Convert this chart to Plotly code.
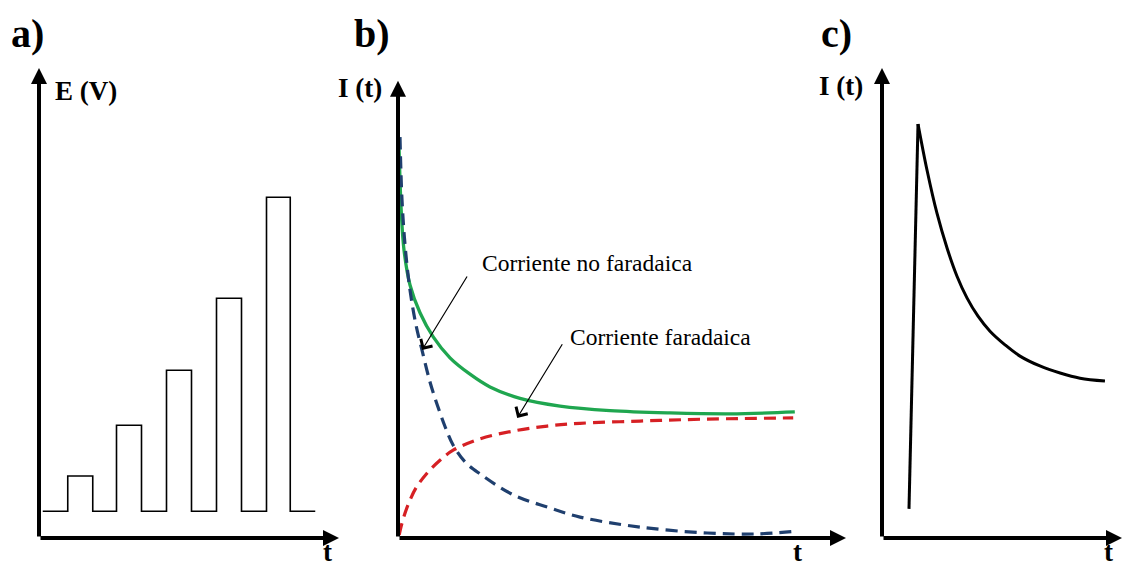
import plotly.graph_objects as go

W, H = 1123, 566

# ---------------- Panel a: potential pulses ----------------
pulse_start = [1.15, 3.1, 5.1, 7.1, 9.1]
pulse_end = [2.15, 4.1, 6.1, 8.1, 10.05]
pulse_E = [1.32, 2.4, 3.57, 5.1, 7.25]
base_E = 0.57
t_first, t_last = 0.15, 11.05

# ---------------- Panel b: currents ----------------
green_t = [0.02, 0.08, 0.15, 0.3, 0.55, 0.88, 1.3, 1.8, 2.3, 3.05, 4.05, 5.3, 6.8, 8.3, 9.92]
green_I = [8.8, 7.2, 6.33, 5.56, 4.95, 4.42, 3.96, 3.6, 3.32, 3.07, 2.9, 2.8, 2.75, 2.73, 2.77]

blue_t = [0.05, 0.1, 0.18, 0.3, 0.45, 0.6, 0.8, 0.98, 1.18, 1.38, 1.68, 2.05, 2.88, 3.73, 4.55, 6.05, 7.73, 8.98, 9.93]
blue_I = [8.81, 7.43, 6.4, 5.45, 4.68, 4.13, 3.43, 2.93, 2.44, 2.04, 1.67, 1.41, 0.95, 0.68, 0.46, 0.24, 0.11, 0.09, 0.15]

red_t = [0.03, 0.08, 0.15, 0.28, 0.45, 0.73, 1.05, 1.38, 2.05, 2.88, 3.73, 4.55, 6.05, 7.55, 9.88]
red_I = [0.07, 0.26, 0.48, 0.79, 1.1, 1.43, 1.71, 1.93, 2.18, 2.35, 2.46, 2.52, 2.57, 2.61, 2.64]

# ---------------- Panel c: current transient ----------------
c_rise_t = [1.125, 1.5]
c_rise_I = [0.62, 8.81]
c_decay_t = [1.5, 1.875, 2.29, 2.71, 3.125, 3.54, 4.0, 4.5, 5.125, 5.75, 6.58, 7.42, 8.25, 9.29]
c_decay_I = [8.81, 7.83, 6.91, 6.17, 5.57, 5.11, 4.72, 4.4, 4.11, 3.87, 3.66, 3.51, 3.4, 3.34]

panel_letters = ["a)", "b)", "c)"]
y_labels = ["E (V)", "I (t)", "I (t)"]
x_label = "t"
label_nf = "Corriente no faradaica"
label_f = "Corriente faradaica"

SERIF = "Liberation Serif"


def fx(px):
    return px / W


def fy(py):
    return 1 - py / H


# step path for panel a
step_t = [t_first]
step_E = [base_E]
for s, e, h in zip(pulse_start, pulse_end, pulse_E):
    step_t += [s, s, e, e]
    step_E += [base_E, h, h, base_E]
step_t.append(t_last)
step_E.append(base_E)

fig = go.Figure()
fig.add_trace(go.Scatter(x=step_t, y=step_E, mode="lines",
                         line=dict(color="black", width=1.6),
                         xaxis="x", yaxis="y", showlegend=False))

fig.add_trace(go.Scatter(x=green_t, y=green_I, mode="lines",
                         line=dict(color="#1fa64f", width=3.3, shape="spline", smoothing=1.0),
                         xaxis="x2", yaxis="y2", showlegend=False))
fig.add_trace(go.Scatter(x=blue_t, y=blue_I, mode="lines",
                         line=dict(color="#1f3f6e", width=3.2, dash="12px,7px", shape="spline", smoothing=1.0),
                         xaxis="x2", yaxis="y2", showlegend=False))
fig.add_trace(go.Scatter(x=red_t, y=red_I, mode="lines",
                         line=dict(color="#d62024", width=3.2, dash="12px,7px", shape="spline", smoothing=1.0),
                         xaxis="x2", yaxis="y2", showlegend=False))

fig.add_trace(go.Scatter(x=c_rise_t, y=c_rise_I, mode="lines",
                         line=dict(color="black", width=3),
                         xaxis="x3", yaxis="y3", showlegend=False))
fig.add_trace(go.Scatter(x=c_decay_t, y=c_decay_I, mode="lines",
                         line=dict(color="black", width=3, shape="spline", smoothing=1.0),
                         xaxis="x3", yaxis="y3", showlegend=False))

ax_common = dict(visible=False, fixedrange=True)
fig.update_layout(
    width=W, height=H,
    margin=dict(l=0, r=0, t=0, b=0),
    paper_bgcolor="white", plot_bgcolor="white",
    font=dict(family=SERIF),
    xaxis=dict(domain=[fx(39), fx(339)], range=[0, 12], anchor="y", **ax_common),
    yaxis=dict(domain=[fy(538), fy(68)], range=[0, 10], anchor="x", **ax_common),
    xaxis2=dict(domain=[fx(398), fx(798)], range=[0, 10], anchor="y2", **ax_common),
    yaxis2=dict(domain=[fy(538), fy(83)], range=[0, 10], anchor="x2", **ax_common),
    xaxis3=dict(domain=[fx(882), fx(1122)], range=[0, 10], anchor="y3", **ax_common),
    yaxis3=dict(domain=[fy(538), fy(68)], range=[0, 10], anchor="x3", **ax_common),
    showlegend=False,
)

annotations = []


def axis_arrows(xr, yr, xtip, ytip):
    for (x, y) in [(xtip, 0), (0, ytip)]:
        annotations.append(dict(
            x=x, y=y, ax=0, ay=0, xref=xr, yref=yr, axref=xr, ayref=yr,
            text="", showarrow=True, arrowhead=2, arrowsize=0.8,
            arrowwidth=4, arrowcolor="black", standoff=0, startstandoff=0))


axis_arrows("x", "y", 12.0, 10.0)
axis_arrows("x2", "y2", 11.2, 10.05)
axis_arrows("x3", "y3", 10.0, 10.0)

# panel letters
for txt, px, py in zip(panel_letters, [27, 372, 836], [34, 34, 34]):
    annotations.append(dict(x=fx(px), y=fy(py), xref="paper", yref="paper",
                            text="<b>%s</b>" % txt, showarrow=False,
                            font=dict(family=SERIF, size=40, color="black"),
                            xanchor="center", yanchor="middle"))

# y labels
for txt, px, py in zip(y_labels, [86, 360, 841], [91, 88, 86]):
    annotations.append(dict(x=fx(px), y=fy(py), xref="paper", yref="paper",
                            text="<b>%s</b>" % txt, showarrow=False,
                            font=dict(family=SERIF, size=27, color="black"),
                            xanchor="center", yanchor="middle"))

# t labels
for px in [327, 797, 1108]:
    annotations.append(dict(x=fx(px), y=fy(552), xref="paper", yref="paper",
                            text="<b>%s</b>" % x_label, showarrow=False,
                            font=dict(family=SERIF, size=27, color="black"),
                            xanchor="center", yanchor="middle"))

# callouts in panel b
annotations.append(dict(x=2.05, y=6.04, xref="x2", yref="y2", text=label_nf,
                        showarrow=False, xanchor="left", yanchor="middle",
                        font=dict(family=SERIF, size=23.5, color="black")))
annotations.append(dict(x=4.25, y=4.42, xref="x2", yref="y2", text=label_f,
                        showarrow=False, xanchor="left", yanchor="middle",
                        font=dict(family=SERIF, size=23.5, color="black")))
annotations.append(dict(x=0.6, y=4.13, ax=1.75, ay=5.78, xref="x2", yref="y2",
                        axref="x2", ayref="y2", text="", showarrow=True,
                        arrowhead=4, arrowsize=2.2, arrowwidth=1.2, arrowcolor="black",
                        standoff=0, startstandoff=0))
annotations.append(dict(x=2.98, y=2.64, ax=4.13, ay=4.29, xref="x2", yref="y2",
                        axref="x2", ayref="y2", text="", showarrow=True,
                        arrowhead=4, arrowsize=2.2, arrowwidth=1.2, arrowcolor="black",
                        standoff=0, startstandoff=0))

fig.update_layout(annotations=annotations)

fig.write_html("out.html")
